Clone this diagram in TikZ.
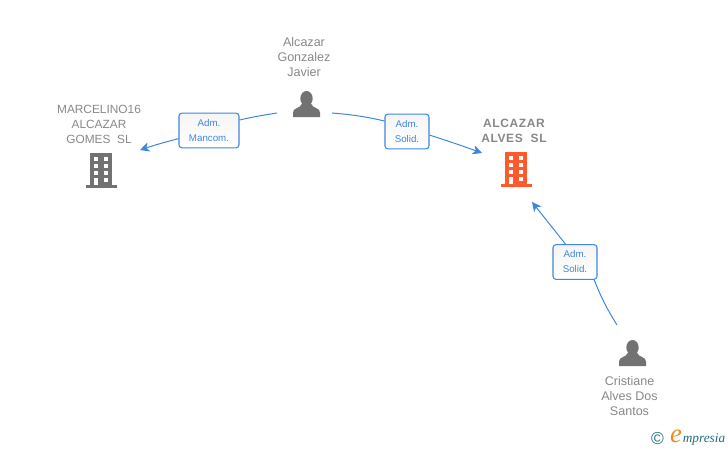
\documentclass[tikz,border=0pt]{standalone}
\usepackage{fontspec}
\setmainfont{Liberation Sans}
\newfontfamily\logofont{Liberation Serif}
\newfontfamily\spacedfont[LetterSpace=5]{Liberation Sans}
\usetikzlibrary{arrows.meta}
\definecolor{nodegray}{HTML}{888888}
\definecolor{icongray}{HTML}{727272}
\definecolor{iconorange}{HTML}{FF5A2B}
\definecolor{linkblue}{HTML}{3F86E0}
\definecolor{logoteal}{HTML}{1F6F80}
\definecolor{logoorange}{HTML}{F08A1D}
\tikzset{
  nodename/.style={text=nodegray,font=\fontsize{9.4}{11.25}\selectfont,align=center,inner sep=0pt},
  linkbox/.style={draw=linkblue,line width=0.8pt,rounded corners=2.2pt,top color=black!4,bottom color=white,text=linkblue,
    font=\fontsize{7.3}{11.25}\selectfont,align=center,inner sep=0pt,minimum height=26pt},
  linkline/.style={draw=linkblue,line width=0.75pt},
  linkarrow/.style={linkline,-{Stealth[length=7pt,width=7pt,inset=2pt]}},
  pics/personicon/.style={code={
    \fill[icongray] (0,-5.5) ellipse[x radius=6.2,y radius=7.5];
    \fill[icongray] (-13.5,13) -- (-13.5,8.5) .. controls (-13.5,3.5) and (-6,4.5) .. (-4.8,0) -- (4.8,0)
      .. controls (6,4.5) and (13.5,3.5) .. (13.5,8.5) -- (13.5,13) -- cycle;
  }},
  pics/buildingicon/.style={code={
    \fill[#1] (-11,-17) rectangle (11,16);
    \fill[#1] (-15.5,14.5) rectangle (15.5,17.5);
    \foreach \wy in {-13.5,-6.5,0.5}{
      \fill[white] (-7.5,\wy) rectangle (-3,\wy+4);
      \fill[white] (2.5,\wy) rectangle (7,\wy+4);
    }
    \fill[white] (-7.5,7.5) rectangle (-3,15);
    \fill[white] (2.5,7.5) rectangle (7,11.5);
  }}
}
\begin{document}
\begin{tikzpicture}[x=0.75pt,y=-0.75pt]
  \useasboundingbox (0,0) rectangle (728,450);
  \node[nodename] (gonzalez) at (304,57) {Alcazar\\Gonzalez\\Javier};
  \node[nodename,font=\fontsize{8.9}{11.25}\selectfont] (marcelino) at (99,124) {MARCELINO16\\ALCAZAR\\GOMES\ \ SL};
  \node[nodename,font=\fontsize{9}{11.25}\spacedfont\bfseries] (alves) at (514,130.5) {ALCAZAR\\ALVES\ \ SL};
  \node[nodename] (cristiane) at (629.5,396) {Cristiane\\Alves Dos\\Santos};
  \pic[name=gonzalezicon] at (306.5,104) {personicon};
  \pic[name=cristianeicon] at (632.5,353) {personicon};
  \pic[name=marcelinoicon] at (101,170) {buildingicon=icongray};
  \pic[name=alvesicon] at (516,169) {buildingicon=iconorange};
  \node[linkbox,minimum width=45pt] (mancom) at (209,130.5) {Adm.\\Mancom.};
  \node[linkbox,minimum width=33pt] (solidone) at (407,131.5) {Adm.\\Solid.};
  \node[linkbox,minimum width=33pt] (solidtwo) at (575,262) {Adm.\\Solid.};
  \coordinate (gonzalezleft) at (277,113);
  \coordinate (gonzalezright) at (332,113);
  \coordinate (cristianetop) at (617,325);
  \coordinate (marcelinoin) at (140,150);
  \coordinate (alvesin) at (482,153);
  \coordinate (alvesbelow) at (532,202);
  \draw[linkline] (gonzalezleft) to[bend right=2] (mancom.19);
  \draw[linkarrow] (mancom.195) to[bend right=2] (marcelinoin);
  \draw[linkline] (gonzalezright) to[bend left=4] (solidone.155);
  \draw[linkarrow] (solidone.351) to[bend left=1] (alvesin);
  \draw[linkline] (cristianetop) to[bend left=5] (solidtwo.317);
  \draw[linkarrow] (solidtwo.118) to (alvesbelow);
  \node[text=logoteal,font=\fontsize{13}{13}\selectfont,inner sep=0pt] (copyright) at (657.5,438.5) {©};
  \node[text=logoorange,font=\fontsize{20}{20}\logofont\itshape,inner sep=0pt] (logoe) at (676,436.5) {e};
  \node[text=logoteal,font=\fontsize{10}{10}\logofont\itshape,inner sep=0pt,anchor=west] (logotext) at (682.5,439) {mpresia};
\end{tikzpicture}
\end{document}
